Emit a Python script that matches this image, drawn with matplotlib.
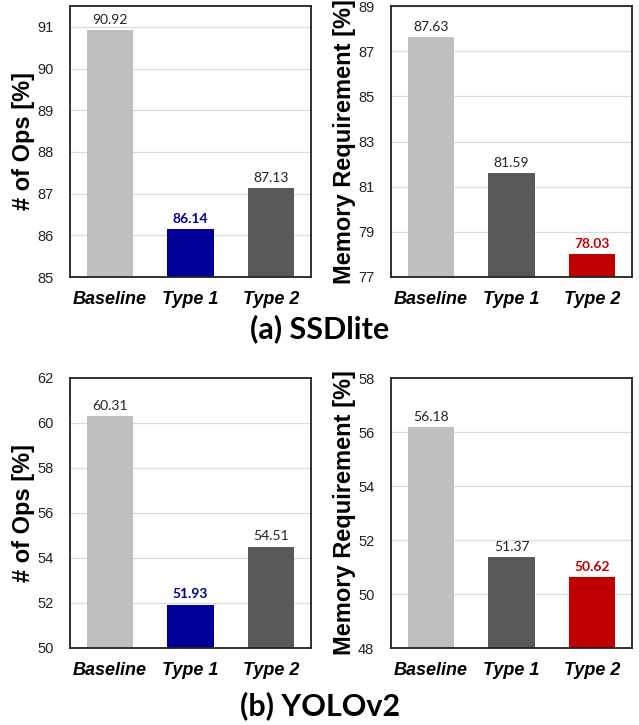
import numpy as np
import matplotlib.pyplot as plt

DPI = 100
W, H = 639, 725

categories = ['Baseline', 'Type 1', 'Type 2']

ssd_ops = [90.92, 86.14, 87.13]
ssd_mem = [87.63, 81.59, 78.03]
yolo_ops = [60.31, 51.93, 54.51]
yolo_mem = [56.18, 51.37, 50.62]

LIGHT = '#BFBFBF'
DARK = '#595959'
BLUE = '#000099'
RED = '#C00000'

ops_colors = [LIGHT, BLUE, DARK]
mem_colors = [LIGHT, DARK, RED]
# highlighted (best) bar gets a bold coloured label
ops_hl = 1
mem_hl = 2

fig = plt.figure(figsize=(W / DPI, H / DPI), dpi=DPI)


def px_axes(x0, y0, x1, y1):
    # axes placed by pixel box (top-left origin)
    return fig.add_axes([x0 / W, 1 - y1 / H, (x1 - x0) / W, (y1 - y0) / H])


def bar_panel(ax, values, colors, hl, ylim, yticks, ylabel):
    x = np.arange(len(categories))
    ax.bar(x, values, width=0.58, color=colors, zorder=2)
    ax.set_xlim(-0.5, len(categories) - 0.5)
    ax.set_ylim(*ylim)
    ax.set_yticks(yticks)
    ax.yaxis.grid(True, color='#DCDCDC', lw=0.9, zorder=0)
    ax.set_axisbelow(True)
    for s in ax.spines.values():
        s.set_color('#222222')
        s.set_linewidth(1.3)
    ax.tick_params(length=0)
    ax.tick_params(axis='y', pad=12, labelsize=10.5, labelcolor='#222222')
    ax.tick_params(axis='x', pad=10)
    for lab in ax.get_yticklabels():
        lab.set_family('Liberation Sans')
    ax.set_xticks(x)
    ax.set_xticklabels(categories, family='Liberation Sans', fontsize=13,
                       fontweight='bold', style='italic')
    ax.set_ylabel(ylabel, family='Liberation Sans', fontsize=17,
                  fontweight='bold', labelpad=1.5)
    for i, v in enumerate(values):
        if i == hl:
            ax.annotate(f'{v:.2f}', (x[i], v), xytext=(0, 3), textcoords='offset points',
                        ha='center', va='bottom', family='Lato', fontsize=10,
                        fontweight='bold', color=colors[i])
        else:
            ax.annotate(f'{v:.2f}', (x[i], v), xytext=(0, 3), textcoords='offset points',
                        ha='center', va='bottom', family='Lato', fontsize=10,
                        color='#222222')


ax1 = px_axes(70, 6, 311, 277)
bar_panel(ax1, ssd_ops, ops_colors, ops_hl, (85, 91.5), np.arange(85, 92, 1), '# of Ops [%]')
ax2 = px_axes(391, 6, 632, 277)
bar_panel(ax2, ssd_mem, mem_colors, mem_hl, (77, 89), np.arange(77, 90, 2), 'Memory Requirement [%]')
ax3 = px_axes(70, 378, 311, 648)
bar_panel(ax3, yolo_ops, ops_colors, ops_hl, (50, 62), np.arange(50, 63, 2), '# of Ops [%]')
ax4 = px_axes(391, 378, 632, 648)
bar_panel(ax4, yolo_mem, mem_colors, mem_hl, (48, 58), np.arange(48, 59, 2), 'Memory Requirement [%]')

fig.text(320 / W, 1 - 329 / H, '(a) SSDlite', ha='center', va='center',
         family='Lato', fontsize=22, fontweight='bold')
fig.text(320 / W, 1 - 706 / H, '(b) YOLOv2', ha='center', va='center',
         family='Lato', fontsize=22, fontweight='bold')

fig.savefig('out.png', dpi=DPI)
